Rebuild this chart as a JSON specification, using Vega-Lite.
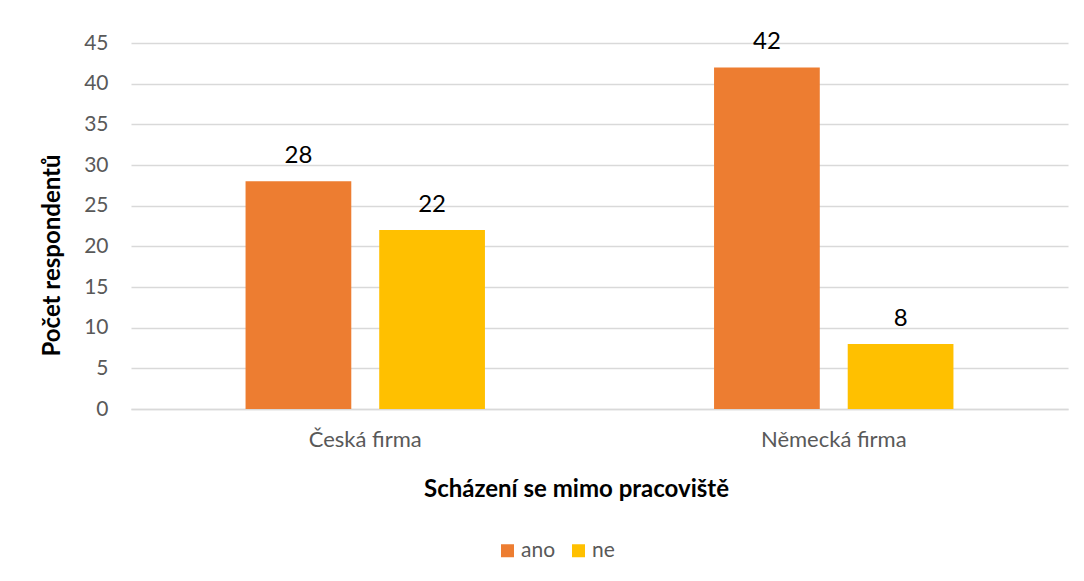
{
  "$schema": "https://vega.github.io/schema/vega-lite/v6.json",
  "width": 937,
  "height": 366,
  "autosize": {"type": "none"},
  "padding": {"left": 131, "top": 43, "right": 16, "bottom": 172},
  "background": "white",
  "config": {
    "font": "Lato",
    "view": {"stroke": null}
  },
  "data": {
    "values": [
      {"firma": "Česká firma", "odpoved": "ano", "pocet": 28},
      {"firma": "Česká firma", "odpoved": "ne", "pocet": 22},
      {"firma": "Německá firma", "odpoved": "ano", "pocet": 42},
      {"firma": "Německá firma", "odpoved": "ne", "pocet": 8}
    ]
  },
  "encoding": {
    "x": {
      "field": "firma",
      "type": "nominal",
      "sort": null,
      "scale": {"paddingInner": 0.489, "paddingOuter": 0.2445},
      "axis": {
        "title": "Scházení se mimo pracoviště",
        "titleFontSize": 24,
        "titleFontWeight": "bold",
        "titleColor": "#000000",
        "titleX": 445,
        "titleY": 80,
        "titleBaseline": "middle",
        "labelAngle": 0,
        "labelFontSize": 22,
        "labelColor": "#595959",
        "labelPadding": 20,
        "ticks": false,
        "domainColor": "#d9d9d9",
        "domainWidth": 1.5,
        "grid": false
      }
    },
    "xOffset": {
      "field": "odpoved",
      "type": "nominal",
      "scale": {"paddingInner": 0.209, "paddingOuter": 0}
    },
    "y": {
      "field": "pocet",
      "type": "quantitative",
      "scale": {"domain": [0, 45]},
      "axis": {
        "title": "Počet respondentů",
        "titleFontSize": 24,
        "titleFontWeight": "bold",
        "titleColor": "#000000",
        "titleX": -67,
        "titleY": 212,
        "titleAngle": -90,
        "titleBaseline": "bottom",
        "values": [0, 5, 10, 15, 20, 25, 30, 35, 40, 45],
        "labelFontSize": 21,
        "labelColor": "#595959",
        "labelPadding": 23,
        "ticks": false,
        "domain": false,
        "gridColor": "#d9d9d9",
        "gridWidth": 1.5
      }
    }
  },
  "layer": [
    {
      "mark": {"type": "bar"},
      "encoding": {
        "color": {
          "field": "odpoved",
          "type": "nominal",
          "scale": {"domain": ["ano", "ne"], "range": ["#ED7D31", "#FFC000"]},
          "legend": {
            "title": null,
            "orient": "none",
            "direction": "horizontal",
            "legendX": 366,
            "legendY": 497,
            "symbolType": "square",
            "symbolSize": 169,
            "symbolStrokeWidth": 0,
            "labelFontSize": 21,
            "labelColor": "#595959",
            "columnPadding": 12,
            "labelOffset": 3
          }
        }
      }
    },
    {
      "mark": {"type": "text", "baseline": "alphabetic", "dy": -18, "fontSize": 24, "color": "#000000"},
      "encoding": {
        "text": {"field": "pocet", "type": "quantitative"}
      }
    }
  ]
}
